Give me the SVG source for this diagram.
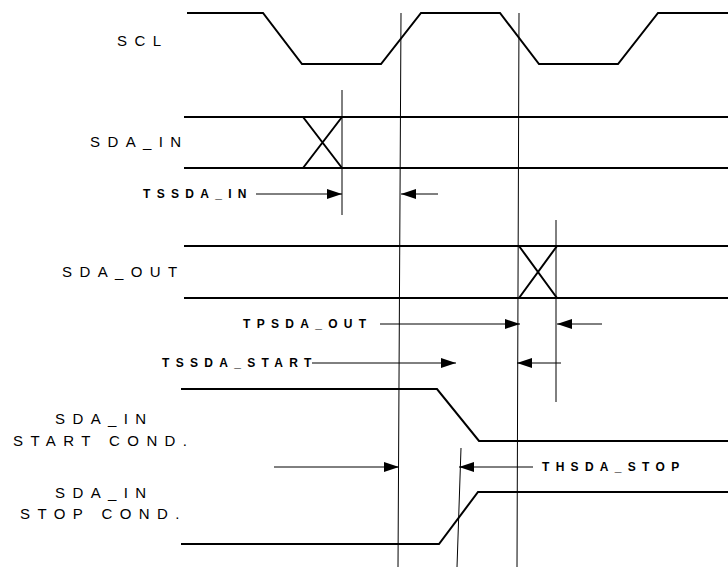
<svg xmlns="http://www.w3.org/2000/svg" width="728" height="567" viewBox="0 0 728 567">
<style>
.sig{fill:none;stroke:#000;stroke-width:2;stroke-linejoin:miter}
.ref{fill:none;stroke:#000;stroke-width:1}
.arr{fill:none;stroke:#000;stroke-width:1;marker-end:url(#ah)}
.lbl{font-family:"Liberation Sans",Arial,sans-serif;font-size:15px;letter-spacing:7.4px;fill:#000}
.blbl{font-family:"Liberation Sans",Arial,sans-serif;font-size:12px;font-weight:bold;letter-spacing:6.3px;fill:#000}
</style>
<defs>
<marker id="ah" markerUnits="userSpaceOnUse" markerWidth="15" markerHeight="10" refX="15" refY="5" orient="auto" viewBox="0 0 15 10">
<path d="M0,0 L15,5 L0,10 Z" fill="#000"/>
</marker>
</defs>
<rect width="728" height="567" fill="#fff"/>
<g id="scl">
<text class="lbl" x="117" y="46">SCL</text>
<path class="sig" d="M187,13 H263 L302,64 H381 L421,13 H500 L539,64 H618 L658,13 H728"/>
</g>
<g id="sda_in">
<text class="lbl" x="90" y="147">SDA_IN</text>
<path class="sig" d="M184,117 H728 M184,168 H728 M303,117 L342,168 M303,168 L342,117"/>
</g>
<g id="sda_out">
<text class="lbl" x="62" y="277">SDA_OUT</text>
<path class="sig" d="M184,246 H728 M184,298 H728 M519,246 L557,298 M519,298 L557,246"/>
</g>
<g id="sda_in_start">
<text class="lbl" x="55" y="424">SDA_IN</text>
<text class="lbl" x="13" y="446">START COND.</text>
<path class="sig" d="M181,389 H437 L479,441 H728"/>
</g>
<g id="sda_in_stop">
<text class="lbl" x="55" y="498">SDA_IN</text>
<text class="lbl" x="20" y="519">STOP COND.</text>
<path class="sig" d="M181,544 H439 L478,492 H728"/>
</g>
<g id="reference-lines">
<line class="ref" x1="401" y1="13" x2="398" y2="567"/>
<line class="ref" x1="519" y1="13" x2="517" y2="567"/>
<line class="ref" x1="342" y1="90" x2="342" y2="215"/>
<line class="ref" x1="556" y1="220" x2="556" y2="402"/>
<line class="ref" x1="461" y1="448" x2="457" y2="567"/>
</g>
<g id="timing-labels">
<text class="blbl" x="143" y="198">TSSDA_IN</text>
<text class="blbl" x="243" y="328">TPSDA_OUT</text>
<text class="blbl" x="162" y="367">TSSDA_START</text>
<text class="blbl" x="542" y="471">THSDA_STOP</text>
</g>
<g id="connectors">
<line class="arr" x1="256" y1="194" x2="342" y2="194"/>
<line class="arr" x1="438" y1="194" x2="401" y2="194"/>
<line class="arr" x1="380" y1="324" x2="520" y2="324"/>
<line class="arr" x1="602" y1="324" x2="557" y2="324"/>
<line class="arr" x1="312" y1="363" x2="456" y2="363"/>
<line class="arr" x1="561" y1="363" x2="517" y2="363"/>
<line class="arr" x1="274" y1="467" x2="399" y2="467"/>
<line class="arr" x1="533" y1="467" x2="459" y2="467"/>
</g>
</svg>
